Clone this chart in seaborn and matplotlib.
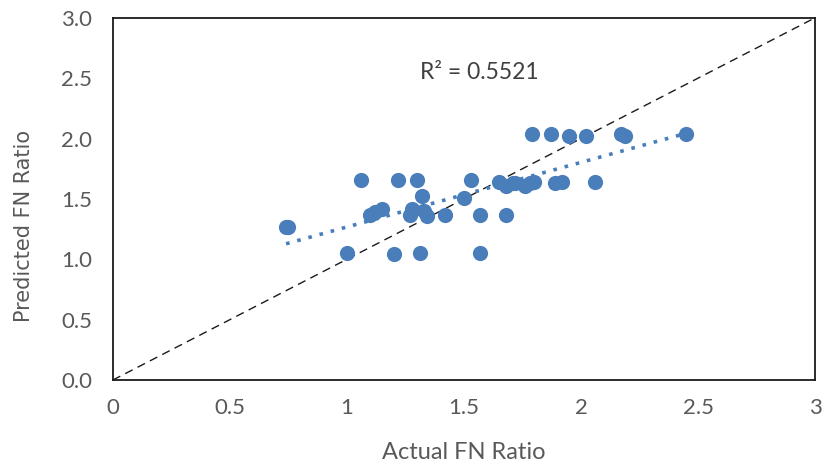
import matplotlib
matplotlib.use('Agg')
import matplotlib.pyplot as plt
import seaborn as sns
import numpy as np
import pandas as pd

# dados
actual = [0.74, 0.75, 1.00, 1.06, 1.10, 1.12, 1.15, 1.20, 1.22, 1.27, 1.28, 1.30, 1.31,
          1.32, 1.33, 1.34, 1.42, 1.50, 1.53, 1.57, 1.57, 1.65, 1.68, 1.68, 1.71, 1.72,
          1.76, 1.78, 1.80, 1.79, 1.87, 1.89, 1.92, 1.95, 2.02, 2.06, 2.17, 2.19, 2.45]
predicted = [1.27, 1.27, 1.05, 1.66, 1.37, 1.39, 1.42, 1.04, 1.66, 1.37, 1.42, 1.66, 1.05,
             1.52, 1.40, 1.36, 1.37, 1.51, 1.66, 1.37, 1.05, 1.64, 1.37, 1.61, 1.63, 1.63,
             1.61, 1.63, 1.64, 2.04, 2.04, 1.63, 1.64, 2.02, 2.02, 1.64, 2.04, 2.02, 2.04]
xticks = [0, 0.5, 1, 1.5, 2, 2.5, 3]
xtick_labels = ['0', '0.5', '1', '1.5', '2', '2.5', '3']
yticks = [0.0, 0.5, 1.0, 1.5, 2.0, 2.5, 3.0]
r2_label = 'R² = 0.5521'

df = pd.DataFrame({'actual': actual, 'predicted': predicted})

sns.set_style('white')
plt.rcParams['font.family'] = ['Lato', 'DejaVu Sans']

azul = '#4a7ebb'
cinza = '#595959'

fig, ax = plt.subplots(figsize=(8.36, 4.68), dpi=100)
fig.subplots_adjust(left=0.135, right=0.975, bottom=0.188, top=0.962)

# linha 1:1
ax.plot([0, 3], [0, 3], color='#1a1a1a', linestyle=(0, (6, 4)), linewidth=1.0, zorder=1)

# pontos
sns.scatterplot(data=df, x='actual', y='predicted', color=azul, s=120,
                edgecolor=azul, linewidth=0, ax=ax, zorder=3)

# linha de tendencia
sns.regplot(data=df, x='actual', y='predicted', scatter=False, ci=None, truncate=True,
            line_kws={'color': azul, 'linestyle': (0, (1, 2.2)), 'linewidth': 2.6},
            ax=ax)

ax.text(1.31, 2.55, r2_label, ha='left', va='center', fontsize=16.5, color='#404040')

ax.set_xlim(0, 3)
ax.set_ylim(0, 3)
ax.set_xticks(xticks)
ax.set_xticklabels(xtick_labels)
ax.set_yticks(yticks)
ax.set_yticklabels([f'{v:.1f}' for v in yticks])
ax.tick_params(axis='both', length=0, labelsize=16, colors=cinza)
ax.tick_params(axis='x', pad=13)
ax.tick_params(axis='y', pad=15)

ax.set_xlabel('Actual FN Ratio', fontsize=17, color=cinza)
ax.xaxis.set_label_coords(0.499, -0.17)
ax.set_ylabel('Predicted FN Ratio', fontsize=15, color=cinza,
              family=['DejaVu Sans'])
ax.yaxis.set_label_coords(-0.112, 0.425)

for s in ax.spines.values():
    s.set_color('#1a1a1a')
    s.set_linewidth(1.3)

plt.savefig('out.png', dpi=100)
